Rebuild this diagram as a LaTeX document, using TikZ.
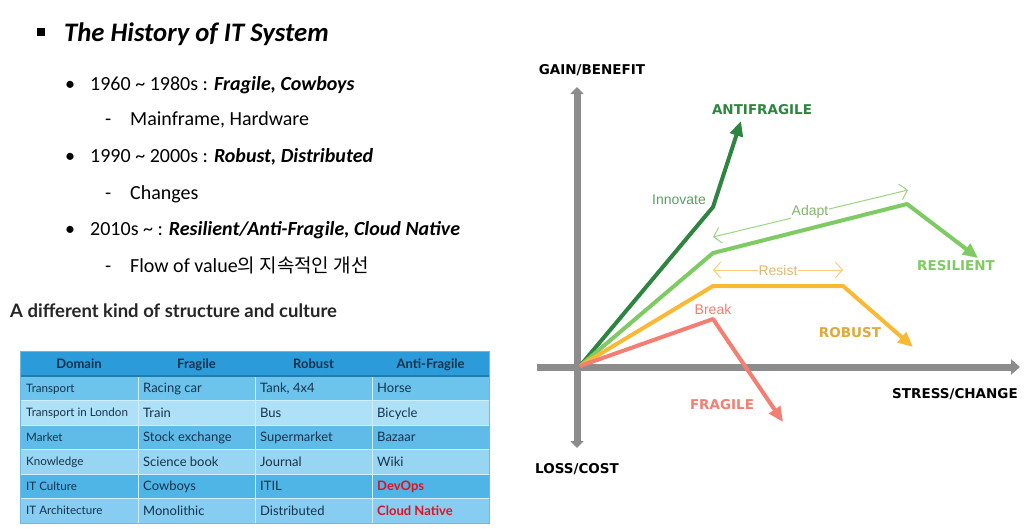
\documentclass[tikz,border=0pt]{standalone}
\usepackage{fontspec}
\setmainfont{Carlito}
\newfontfamily\cjk{Noto Sans CJK KR}
\newfontfamily\tabfont{Lato}
\newfontfamily\labfont{Liberation Sans}
\newfontfamily\comic{DejaVu Sans}
\usetikzlibrary{arrows.meta}
\definecolor{axisgray}{HTML}{8C8C8C}
\definecolor{antig}{HTML}{2E8540}
\definecolor{innog}{HTML}{5D9E62}
\definecolor{resg}{HTML}{7FCB63}
\definecolor{adaptg}{HTML}{9AD582}
\definecolor{robo}{HTML}{F9B935}
\definecolor{robolab}{HTML}{E0A93A}
\definecolor{resisto}{HTML}{F9CB80}
\definecolor{frag}{HTML}{F47E72}
\definecolor{hdrblue}{HTML}{2B9BD9}
\definecolor{rowA}{HTML}{6CC4EC}
\definecolor{rowB}{HTML}{AEE0F7}
\definecolor{rowC}{HTML}{5FBCE9}
\definecolor{rowD}{HTML}{98D5F3}
\definecolor{rowE}{HTML}{4FB4E6}
\definecolor{rowF}{HTML}{86CDF1}
\definecolor{tabtext}{HTML}{16324C}
\definecolor{devred}{HTML}{E3111F}
\tikzset{
  txt/.style={anchor=base west, inner sep=0pt, font=\fontsize{20}{23}\selectfont},
  cellD/.style={anchor=west, inner xsep=0pt, inner ysep=0pt, text height=8.3pt, text depth=0pt, text=tabtext, font=\tabfont\fontsize{11.6}{13}\selectfont},
  cell/.style={anchor=west, inner xsep=0pt, inner ysep=0pt, text height=9.3pt, text depth=0pt, text=tabtext, font=\tabfont\fontsize{13}{15}\selectfont},
  cellR/.style={cell, text=devred, font=\tabfont\bfseries\fontsize{13}{15}\selectfont},
  hdr/.style={anchor=center, inner sep=0pt, text height=9.2pt, text depth=0pt, text=tabtext, font=\tabfont\bfseries\fontsize{13}{15}\selectfont},
  comiclab/.style={inner sep=0pt, font=\comic\bfseries\fontsize{13.5}{16}\selectfont},
  sanslab/.style={inner sep=1pt, font=\labfont\fontsize{14}{16}\selectfont},
  axisline/.style={line width=7pt, draw=axisgray},
  curve/.style={line width=4pt, line join=round, -{Triangle[length=15pt,width=13pt]}},
  span/.style={line width=1pt, {Straight Barb[length=7pt,width=16pt]}-{Straight Barb[length=7pt,width=16pt]}}
}
\begin{document}
\begin{tikzpicture}[x=1pt,y=-1pt]
\useasboundingbox (0,0) rectangle (1036,528);
\fill[white] (0,0) rectangle (1036,528);

% ---------- left text ----------
\node[fill=black, minimum size=8pt, inner sep=0pt] (sq) at (41,32) {};
\node[anchor=base west, inner sep=0pt, font=\bfseries\itshape\fontsize{26.7}{30}\selectfont] (title) at (64,41) {The History of IT System};

\node[txt] (b1) at (65,90) {•};
\node[txt] (l1) at (90,90) {1960 \textasciitilde{} 1980s : \textbf{\textit{Fragile, Cowboys}}};
\node[txt] (d1) at (105,125) {-};
\node[txt] (s1) at (130,125) {Mainframe, Hardware};
\node[txt] (b2) at (65,162) {•};
\node[txt] (l2) at (90,162) {1990 \textasciitilde{} 2000s : \textbf{\textit{Robust, Distributed}}};
\node[txt] (d2) at (105,199) {-};
\node[txt] (s2) at (130,199) {Changes};
\node[txt] (b3) at (65,235) {•};
\node[txt] (l3) at (90,235) {2010s \textasciitilde{} : \textbf{\textit{Resilient/Anti-Fragile, Cloud Native}}};
\node[txt] (d3) at (105,272) {-};
\node[txt] (s3) at (130,272) {Flow of value{\cjk\fontsize{19}{23}\selectfont 의 지속적인 개선}};

\node[anchor=base west, inner sep=0pt, text=black!85, font=\tabfont\bfseries\fontsize{18.5}{21}\selectfont] (sub) at (10,317) {A different kind of structure and culture};

% ---------- table ----------
\fill[hdrblue] (20,351) rectangle (489,376);
\foreach \i/\c in {0/rowA,1/rowB,2/rowC,3/rowD,4/rowE,5/rowF}
  \fill[\c] (20,{376+24.5*\i}) rectangle (489,{400.5+24.5*\i});
\foreach \i in {1,...,5}
  \draw[line width=0.6pt, draw=rowB!55!white] (20,{376+24.5*\i}) -- (489,{376+24.5*\i});
\foreach \x in {138,255,372}
  \draw[line width=0.8pt, draw=rowB!60!white] (\x,376) -- (\x,523);
\draw[line width=1.2pt, draw=hdrblue!80!black] (20,376) -- (489,376);
\draw[line width=0.8pt, draw=hdrblue!70!white] (20,351) rectangle (489,523);

\node[hdr] (h1) at (79,363.5) {Domain};
\node[hdr] (h2) at (196.5,363.5) {Fragile};
\node[hdr] (h3) at (313.5,363.5) {Robust};
\node[hdr] (h4) at (430.5,363.5) {Anti-Fragile};

\node[cellD] (a1) at (26,388.25) {Transport};
\node[cell]  (b1c) at (143,388.25) {Racing car};
\node[cell]  (c1) at (260,388.25) {Tank, 4x4};
\node[cell]  (e1) at (377,388.25) {Horse};

\node[cellD] (a2) at (26,412.75) {Transport in London};
\node[cell]  (b2c) at (143,412.75) {Train};
\node[cell]  (c2) at (260,412.75) {Bus};
\node[cell]  (e2) at (377,412.75) {Bicycle};

\node[cellD] (a3) at (26,437.25) {Market};
\node[cell]  (b3c) at (143,437.25) {Stock exchange};
\node[cell]  (c3) at (260,437.25) {Supermarket};
\node[cell]  (e3) at (377,437.25) {Bazaar};

\node[cellD] (a4) at (26,461.75) {Knowledge};
\node[cell]  (b4c) at (143,461.75) {Science book};
\node[cell]  (c4) at (260,461.75) {Journal};
\node[cell]  (e4) at (377,461.75) {Wiki};

\node[cellD] (a5) at (26,486.25) {IT Culture};
\node[cell]  (b5c) at (143,486.25) {Cowboys};
\node[cell]  (c5) at (260,486.25) {ITIL};
\node[cellR] (e5) at (377,486.25) {DevOps};

\node[cellD] (a6) at (26,510.75) {IT Architecture};
\node[cell]  (b6c) at (143,510.75) {Monolithic};
\node[cell]  (c6) at (260,510.75) {Distributed};
\node[cellR] (e6) at (377,510.75) {Cloud Native};

% ---------- chart ----------
\coordinate (ytop) at (577,87);
\coordinate (ybot) at (577,448);
\coordinate (xleft) at (537,367);
\coordinate (xright) at (1020,367);
\draw[axisline, {Triangle[length=7pt,width=13pt]}-{Triangle[length=7pt,width=13pt]}] (ybot) -- (ytop);
\draw[axisline, -{Triangle[length=9pt,width=15pt]}] (xleft) -- (xright);

\coordinate (O) at (580,366);
% antifragile
\coordinate (af1) at (713,207);
\coordinate (af2) at (741,121);
\draw[curve, draw=antig] (O) -- (af1) -- (af2);
% resilient
\coordinate (rs1) at (713,253);
\coordinate (rs2) at (907,204);
\coordinate (rs3) at (978,258);
\draw[curve, draw=resg] (O) -- (rs1) -- (rs2) -- (rs3);
% robust
\coordinate (rb1) at (713,286);
\coordinate (rb2) at (843,286);
\coordinate (rb3) at (913,347);
\draw[curve, draw=robo] (O) -- (rb1) -- (rb2) -- (rb3);
% fragile
\coordinate (fr1) at (713,319);
\coordinate (fr2) at (783,422);
\draw[curve, draw=frag] (O) -- (fr1) -- (fr2);

% adapt / resist spans
\coordinate (ad1) at (713,237);
\coordinate (ad2) at (908,190);
\draw[span, draw=adaptg] (ad1) -- (ad2);
\node[sanslab, fill=white, text=adaptg!85!black] (adapt) at (810,212) {Adapt};
\coordinate (re1) at (713,270);
\coordinate (re2) at (843,270);
\draw[span, draw=resisto] (re1) -- (re2);
\node[sanslab, fill=white, text=resisto!90!black] (resist) at (778,270) {Resist};

\node[sanslab, text=innog] (innov) at (679,200) {Innovate};
\node[sanslab, text=frag] (break) at (713,309) {Break};

\node[comiclab, text=antig] (lantif) at (762,110) {ANTIFRAGILE};
\node[comiclab, text=resg] (lres) at (956,266) {RESILIENT};
\node[comiclab, text=robolab] (lrob) at (850,333) {ROBUST};
\node[comiclab, text=frag] (lfrag) at (722,405) {FRAGILE};

\node[comiclab] (gain) at (592,70) {GAIN/BENEFIT};
\node[comiclab] (stress) at (955,394) {STRESS/CHANGE};
\node[comiclab] (loss) at (577,469) {LOSS/COST};
\end{tikzpicture}
\end{document}
